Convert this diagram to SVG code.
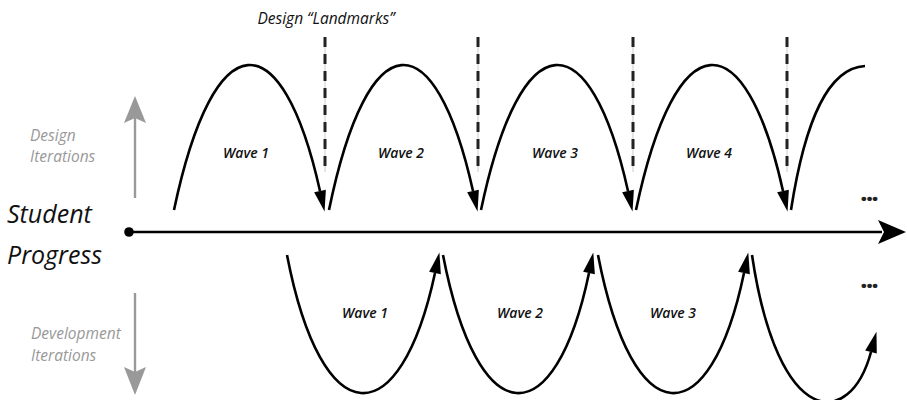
<svg xmlns="http://www.w3.org/2000/svg" width="907" height="400" viewBox="0 0 907 400">
<defs>
<marker id="ah" markerUnits="userSpaceOnUse" markerWidth="24" markerHeight="16" refX="0" refY="6" orient="auto" overflow="visible">
<path d="M0,0 L21,6 L0,12 z" fill="#000"/>
</marker>
<marker id="axh" markerUnits="userSpaceOnUse" markerWidth="30" markerHeight="30" refX="4" refY="12" orient="auto" overflow="visible">
<path d="M0,0 L28,12 L0,24 L6,12 z" fill="#000"/>
</marker>
<style>
.arc{fill:none;stroke:#000;stroke-width:2.6;}
.dash{stroke:#222;stroke-width:3;stroke-dasharray:10 7;}
.thin{stroke:#ccc;stroke-width:1;}
.wave{font-family:"Open Sans","Liberation Sans",sans-serif;font-style:italic;font-weight:600;font-size:14px;fill:#111;text-anchor:middle;}
.grey{font-family:"Open Sans","Liberation Sans",sans-serif;font-style:italic;font-size:15.5px;fill:#999;}
.big{font-family:"Open Sans","Liberation Sans",sans-serif;font-style:italic;font-size:25px;fill:#111;}
.dots{font-family:"Open Sans","Liberation Sans",sans-serif;font-weight:800;font-size:23px;fill:#222;text-anchor:middle;letter-spacing:-1px;}
</style>
</defs>
<rect width="907" height="400" fill="#fff"/>

<g id="landmarks">
<text x="326" y="24" class="wave" style="font-size:15.5px;font-weight:500">Design “Landmarks”</text>
<line class="thin" x1="325" y1="37" x2="325" y2="172"/>
<line class="dash" x1="325" y1="37" x2="325" y2="172"/>
<line class="thin" x1="478" y1="37" x2="478" y2="172"/>
<line class="dash" x1="478" y1="37" x2="478" y2="172"/>
<line class="thin" x1="633" y1="37" x2="633" y2="172"/>
<line class="dash" x1="633" y1="37" x2="633" y2="172"/>
<line class="thin" x1="787" y1="37" x2="787" y2="172"/>
<line class="dash" x1="787" y1="37" x2="787" y2="172"/>
</g>

<g id="axis">
<line x1="129" y1="232" x2="882" y2="232" stroke="#000" stroke-width="2.6" marker-end="url(#axh)"/>
<circle cx="129" cy="232" r="4.8" fill="#000"/>
<text x="7" y="223" class="big">Student</text>
<text x="7" y="264" class="big">Progress</text>
</g>

<g id="design-iterations">
<line x1="135" y1="198" x2="135" y2="118" stroke="#999" stroke-width="2.4"/>
<path d="M124,123 L135,96 L146,123 L135,118 z" fill="#999"/>
<text x="30" y="141" class="grey">Design</text>
<text x="30" y="162" class="grey">Iterations</text>
</g>

<g id="development-iterations">
<line x1="135" y1="293" x2="135" y2="372" stroke="#999" stroke-width="2.4"/>
<path d="M124,367 L135,395 L146,367 L135,372 z" fill="#999"/>
<text x="31" y="339" class="grey">Development</text>
<text x="31" y="361" class="grey">Iterations</text>
</g>

<g id="connectors">
<path class="arc" d="M174,210 C214,20 282,20 320,191" marker-end="url(#ah)"/>
<path class="arc" d="M329,210 C368,20 435,20 473,191" marker-end="url(#ah)"/>
<path class="arc" d="M481,210 C521,20 590,20 628,191" marker-end="url(#ah)"/>
<path class="arc" d="M636,210 C676,20 745,20 783,191" marker-end="url(#ah)"/>
<path class="arc" d="M791,210 C805,120 828,68 865,66"/>

<path class="arc" d="M287,255 C322,436 400,436 435,273" marker-end="url(#ah)"/>
<path class="arc" d="M443,255 C478,436 555,436 589,273" marker-end="url(#ah)"/>
<path class="arc" d="M598,255 C633,436 710,436 744,273" marker-end="url(#ah)"/>
<path class="arc" d="M752,255 C778,430 850,430 871,352" marker-end="url(#ah)"/>
</g>

<g id="top-waves">
<text x="246" y="158" class="wave">Wave 1</text>
<text x="401" y="158" class="wave">Wave 2</text>
<text x="555" y="158" class="wave">Wave 3</text>
<text x="709" y="158" class="wave">Wave 4</text>
<text x="869" y="201" class="dots">...</text>
</g>

<g id="bottom-waves">
<text x="365" y="318" class="wave">Wave 1</text>
<text x="520" y="318" class="wave">Wave 2</text>
<text x="673" y="318" class="wave">Wave 3</text>
<text x="869" y="288" class="dots">...</text>
</g>
</svg>
